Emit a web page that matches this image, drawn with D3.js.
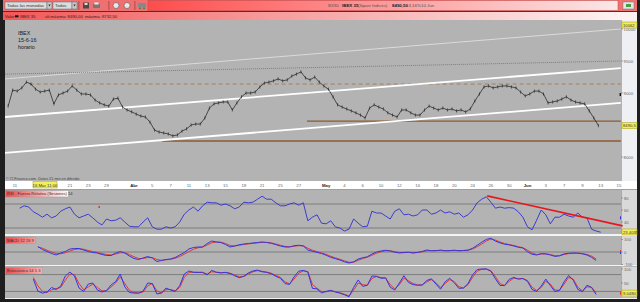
<!DOCTYPE html>
<html>
<head>
<meta charset="utf-8">
<script src="https://cdn.jsdelivr.net/npm/d3@7"></script>
<style>
body{margin:0;background:#1e1e1e;overflow:hidden}
svg{display:block}
text{font-family:"Liberation Sans",Arial,sans-serif}
</style>
</head>
<body>
<div id="chart"></div>
<script>

// ---- data ----
// trading-day index: 0 = 11 Mar 2016, series sampled every half session
var priceStart = -0.75
var price = [8795,9045,9030,9080,9170,9140,9060,9015,9030,9045,
  8830,8970,9000,9030,9110,9045,8985,8985,8970,8890,
  8845,8815,8795,8905,8920,8780,8735,8705,8670,8640,
  8625,8545,8420,8390,8375,8360,8330,8345,8405,8440,
  8500,8515,8515,8610,8765,8830,8845,8860,8860,8735,
  8845,8940,9000,9000,9015,9095,9155,9170,9190,9220,
  9190,9205,9265,9295,9330,9235,9205,9250,9170,9110,
  9060,8940,8815,8780,8750,8720,8690,8655,8610,8765,
  8815,8780,8750,8690,8655,8625,8735,8735,8690,8655,
  8655,8735,8795,8765,8735,8765,8735,8750,8720,8735,
  8705,8750,8875,8985,9095,9110,9080,9095,9110,9110,
  9095,9080,9015,8955,8985,9030,9030,8985,8845,8860,
  8875,8905,8940,8890,8860,8845,8830,8720,8610,8490]

var rsiStart = 0.5
var rsi = [63,67,65,57,53,48,53,47,50,58,
  62,65,53,47,50,53,47,40,35,45,
  42,43,47,40,33,32,32,40,47,32,
  28,28,32,30,32,40,53,60,65,58,
  67,73,72,72,68,70,67,62,65,73,
  72,73,78,83,78,78,72,67,67,70,
  72,68,72,42,48,52,38,37,42,32,
  30,25,28,45,38,32,33,58,55,55,
  50,45,58,62,52,53,50,52,60,60,
  53,55,60,55,57,53,55,48,52,60,
  72,78,82,73,63,65,63,64,63,57,
  48,32,27,43,60,52,37,48,48,53,
  50,48,55,48,47,28,25,23]

var macdStart = 2.5
var macd = [44,20,4,-12,-24,-8,4,24,28,28,
  16,4,-4,-8,-20,-28,-28,-8,4,-8,
  -32,-52,-60,-48,-36,-48,-76,-68,-60,-56,
  -44,-24,-4,24,36,40,40,68,88,80,
  76,60,40,48,58,64,68,72,76,80,
  76,70,59,48,40,40,50,54,48,16,
  6,-3,-12,-26,-42,-53,-64,-78,-88,-79,
  -56,-46,-38,-16,0,8,14,8,-2,-8,
  -4,-2,-8,-3,5,16,10,11,15,10,
  11,14,10,12,15,30,54,78,101,110,
  87,73,62,57,48,38,32,2,-18,-24,
  -13,-15,-24,-35,-30,-15,-10,-8,-9,-15,
  -24,-42,-68]
var macdSignal = [40,30,14,0,-12,-14,-6,8,20,26,
  22,12,4,-4,-12,-20,-24,-16,-6,-6,
  -20,-38,-52,-52,-44,-44,-60,-66,-62,-58,
  -50,-36,-18,4,22,34,40,56,74,80,
  78,68,52,48,54,60,65,69,73,77,
  77,73,64,54,45,42,46,51,50,30,
  14,3,-7,-19,-34,-47,-58,-71,-82,-82,
  -66,-52,-42,-26,-10,2,10,10,3,-4,
  -5,-3,-6,-4,1,10,11,11,13,11,
  11,13,11,12,14,24,42,64,88,104,
  95,80,68,60,52,42,35,14,-8,-20,
  -16,-15,-20,-30,-30,-20,-13,-10,-9,-12,
  -20,-33,-55]

var stochStart = 2.0
var stochK = [64,21,14,18,34,27,39,75,89,75,
  32,20,46,50,25,18,23,43,55,82,
  36,16,14,14,21,50,48,11,14,32,
  25,20,41,82,93,88,88,88,79,95,
  88,86,88,84,76,69,74,86,93,96,
  90,88,83,74,67,48,45,72,92,95,
  89,31,29,15,20,24,18,14,8,1,
  34,61,38,42,75,74,67,68,35,25,
  50,76,52,44,42,43,59,65,46,28,
  54,67,51,31,32,48,79,98,100,100,
  92,65,41,41,63,70,64,66,56,27,
  20,39,64,41,19,24,54,77,60,27,
  19,42,34,9]
var stochD = [70,40,20,16,26,30,34,60,82,80,
  48,26,36,46,34,22,22,36,50,72,
  48,24,16,14,18,40,48,22,14,26,
  27,22,34,70,88,89,88,88,82,90,
  89,87,87,85,79,72,73,82,90,94,
  92,89,85,77,70,54,47,64,85,93,
  91,45,31,19,19,22,19,15,10,4,
  24,50,44,42,66,73,69,68,44,29,
  44,67,58,48,43,43,54,62,51,34,
  48,62,55,37,32,44,70,92,99,100,
  94,73,48,41,56,67,65,66,59,35,
  23,34,56,46,25,24,46,70,64,35,
  22,36,35,15]

// date axis labels and their trading-day index
var dateLabels = ["11","21","23","29","Abr","5","7","11","13","15","19","21","25","27","May","4","6","10","12","16","18","20","24","26","30","Jun","3","7","9","13","15"]
var dateDays = [0,6,8,10,13,15,17,19,21,23,25,27,29,31,34,36,38,40,42,44,46,48,50,52,54,56,58,60,62,64,66]
var monthLabels = ["Abr","May","Jun"]
var cursorDay = 3.28, cursorLabel = "16 Mar 11:00"

// drawn lines on the price panel: [startDay, endDay] and [startPrice, endPrice]
var lineDays = [-1.1, 66.2]
var thinTop = [9220, 10000]
var dottedTop = [9295, 9500]
var channelHigh = [8625, 9390]
var channelLow = [8065, 8845]
var dashedLevel = 9140, dashedFrom = 1.6
var supportLevels = [8560, 8250], supportFrom = [31.9, 16.1]
var rsiTrendDays = [51.6, 66.4], rsiTrendVals = [83.5, 33.5]

var priceTicks = [10000, 9500, 9000, 8000]
var lastPrice = 8490.5, topPrice = 10062
var rsiTicks = [80, 60, 40], rsiLevels = [70, 30], rsiLast = "23.4035"
var macdTicks = [100, 0, -100]
var stochTicks = [100, 50], stochLevels = [80, 20], stochLast = "9.0480"

// ---- drawing ----
var W = 640, H = 302
var svg = d3.select("#chart").append("svg").attr("width", W).attr("height", H)
var defs = svg.append("defs")

function grad(id, x1, x2, c1, c2){
  var g = defs.append("linearGradient").attr("id", id)
    .attr("gradientUnits","userSpaceOnUse").attr("x1",x1).attr("x2",x2).attr("y1",0).attr("y2",0)
  g.append("stop").attr("offset",0).attr("stop-color",c1)
  g.append("stop").attr("offset",1).attr("stop-color",c2)
}
grad("gTop", 148, 615, "#ff4c4c", "#fbe6e6")
grad("gRow", 5, 620, "#f25858", "#fdf2f2")
grad("gLab", 5, 70, "#ee4a4a", "#ffffff")

svg.append("rect").attr("width",W).attr("height",H).attr("fill","#1e1e1e")

// toolbar
svg.append("rect").attr("x",3).attr("y",0).attr("width",634).attr("height",11).attr("fill","#ef7070")
svg.append("rect").attr("x",148).attr("y",0.5).attr("width",470).attr("height",10).attr("fill","url(#gTop)")
  .attr("stroke","#b84848").attr("stroke-width",0.5)
function dropdown(x, w, label){
  svg.append("rect").attr("x",x).attr("y",2).attr("width",w).attr("height",7)
    .attr("fill","#dcdcdc").attr("stroke","#666").attr("stroke-width",0.5)
  svg.append("rect").attr("x",x+w).attr("y",2).attr("width",5).attr("height",7)
    .attr("fill","#c8c8c8").attr("stroke","#666").attr("stroke-width",0.5)
  svg.append("path").attr("d","M"+(x+w+1.3)+",4.6 l2.4,0 l-1.2,1.8z").attr("fill","#333")
  svg.append("text").attr("x",x+2).attr("y",7.3).attr("font-size",4.3).attr("fill","#333").text(label)
}
dropdown(5, 42, "Todas las monedas")
dropdown(53, 19, "Todos")
;[78.5,108.5,134.5].forEach(function(sx){
  svg.append("rect").attr("x",sx).attr("y",1).attr("width",0.8).attr("height",9).attr("fill","#a04040")
})
svg.append("rect").attr("x",83).attr("y",2.5).attr("width",6).attr("height",6).attr("fill","#4a4a4a")
svg.append("rect").attr("x",84.5).attr("y",3).attr("width",3).attr("height",2).attr("fill","#ddd")
svg.append("rect").attr("x",93).attr("y",4).attr("width",7).attr("height",4).attr("fill","#777")
svg.append("rect").attr("x",94.5).attr("y",2.5).attr("width",4).attr("height",2).attr("fill","#eee")
;[116,127].forEach(function(cx){
  svg.append("circle").attr("cx",cx).attr("cy",5.5).attr("r",3).attr("fill","#e8e8e8").attr("stroke","#555").attr("stroke-width",0.6)
})
svg.append("rect").attr("x",138).attr("y",3).attr("width",8).attr("height",4).attr("fill","#888")
svg.append("circle").attr("cx",140).attr("cy",8.3).attr("r",1).attr("fill","#3a8a3a")
svg.append("circle").attr("cx",144).attr("cy",8.3).attr("r",1).attr("fill","#3a8a3a")
svg.append("rect").attr("x",623).attr("y",2).attr("width",11).attr("height",7).attr("fill","#e4e4e4").attr("stroke","#777").attr("stroke-width",0.5)
svg.append("rect").attr("x",626).attr("y",4).attr("width",5).attr("height",3).attr("fill","#4a9a4a")

var head = svg.append("text").attr("y",7.2).attr("font-size",4.4).attr("fill","#555")
head.append("tspan").attr("x",328).text("BX30")
head.append("tspan").attr("x",342).attr("font-weight","bold").attr("fill","#222").text("IBEX 35")
head.append("tspan").attr("x",358).text("(Spain Indices)")
head.append("tspan").attr("x",392).attr("font-weight","bold").attr("fill","#222").text("8490,50")
head.append("tspan").attr("x",407).text("-3,16%")
head.append("tspan").attr("x",421).text("10 Jun")

svg.append("rect").attr("x",3).attr("y",11).attr("width",634).attr("height",1).attr("fill","#3a3a3a")
svg.append("rect").attr("x",3).attr("y",12).attr("width",634).attr("height",8).attr("fill","url(#gRow)")
var row = svg.append("text").attr("y",18).attr("font-size",4.2).attr("fill","#3a2020")
row.append("tspan").attr("x",5).text("Valor:")
row.append("tspan").attr("x",20).text("IBEX 35")
row.append("tspan").attr("x",45).text("ult.máxima: 8490,00")
row.append("tspan").attr("x",85).text("máxima: 8732,50")
svg.append("rect").attr("x",15).attr("y",15.3).attr("width",3.5).attr("height",2).attr("fill","#111")

// panels
var plotL = 5, plotR = 621, stripR = 637
var panels = {
  main: {top:20, bottom:181},
  rsi: {top:190, bottom:234},
  macd: {top:236, bottom:265},
  stoch: {top:266.5, bottom:297.5}
}
Object.keys(panels).forEach(function(k){
  var p = panels[k]
  svg.append("rect").attr("x",plotL).attr("y",p.top).attr("width",plotR-plotL).attr("height",p.bottom-p.top).attr("fill","#b3b3b3")
  svg.append("rect").attr("x",plotR).attr("y",p.top).attr("width",stripR-plotR).attr("height",p.bottom-p.top)
    .attr("fill", k=="main" ? "#eef0f4" : "#d9d9d9")
  svg.append("rect").attr("x",plotR).attr("y",p.top).attr("width",0.6).attr("height",p.bottom-p.top).attr("fill","#8a8a8a")
  defs.append("clipPath").attr("id","clip-"+k).append("rect")
    .attr("x",plotL).attr("y",p.top).attr("width",plotR-plotL+3).attr("height",p.bottom-p.top)
})
// separators
;[[234,2],[265,1.5],[297.5,1.5]].forEach(function(s){
  svg.append("rect").attr("x",plotL).attr("y",s[0]).attr("width",stripR-plotL).attr("height",s[1]).attr("fill","#f4f4f4")
})

// scales
var x = d3.scaleLinear().domain([0, 66]).range([15, 619])
var yP = d3.scaleLinear().domain([8000, 10000]).range([157, 29])
var yR = d3.scaleLinear().domain([0, 100]).range([246, 186])
var yM = d3.scaleLinear().domain([-100, 100]).range([264.5, 239.5])
var yS = d3.scaleLinear().domain([0, 100]).range([297, 269])

function seg(g, d0, d1, v0, v1, ys){
  return g.append("line").attr("x1",x(d0)).attr("x2",x(d1)).attr("y1",ys(v0)).attr("y2",ys(v1))
}
function series(g, data, start, ys, color, w){
  var line = d3.line().x(function(v,i){ return x(start + i*0.5) }).y(function(v){ return ys(v) })
  return g.append("path").datum(data).attr("d", line).attr("fill","none")
    .attr("stroke", color).attr("stroke-width", w).attr("stroke-linejoin","round")
}

// main price panel
var gm = svg.append("g").attr("clip-path","url(#clip-main)")
seg(gm, lineDays[0], lineDays[1], thinTop[0], thinTop[1], yP).attr("stroke","#e4e4e4").attr("stroke-width",0.8)
seg(gm, lineDays[0], lineDays[1], dottedTop[0], dottedTop[1], yP).attr("stroke","#666").attr("stroke-width",0.7).attr("stroke-dasharray","1,1")
seg(gm, dashedFrom, lineDays[1], dashedLevel, dashedLevel, yP).attr("stroke","#a07a55").attr("stroke-width",0.9).attr("stroke-dasharray","4,3")
supportLevels.forEach(function(v,i){
  seg(gm, supportFrom[i], lineDays[1], v, v, yP).attr("stroke","#8c5a30").attr("stroke-width",1.3)
})
seg(gm, lineDays[0], lineDays[1], channelHigh[0], channelHigh[1], yP).attr("stroke","#ffffff").attr("stroke-width",1.8)
seg(gm, lineDays[0], lineDays[1], channelLow[0], channelLow[1], yP).attr("stroke","#ffffff").attr("stroke-width",1.8)

gm.selectAll(".bar").data(price).enter().append("line").attr("class","bar")
  .attr("x1", function(v,i){ return x(priceStart + i*0.5) }).attr("x2", function(v,i){ return x(priceStart + i*0.5) })
  .attr("y1", function(v){ return yP(v) - 1.6 }).attr("y2", function(v){ return yP(v) + 1.6 })
  .attr("stroke","#1a1a1a").attr("stroke-width",0.6)
series(gm, price, priceStart, yP, "#1a1a1a", 0.7)

svg.append("rect").attr("x",619.6).attr("y",yP(9000)).attr("width",1.4).attr("height",3).attr("fill","#111")

var note = svg.append("text").attr("font-size",5.4).attr("fill","#1a1a1a")
;["IBEX","15-6-16","horario"].forEach(function(t,i){
  note.append("tspan").attr("x",18).attr("y",35 + i*7).text(t)
})
svg.append("text").attr("x",6).attr("y",180).attr("font-size",3.8).attr("fill","#444")
  .text("© IT-Finance.com. Datos 15 min en diferido")

// price axis
priceTicks.forEach(function(v){
  svg.append("rect").attr("x",plotR).attr("y",yP(v)-0.3).attr("width",2).attr("height",0.6).attr("fill","#777")
  svg.append("text").attr("x",623.5).attr("y",yP(v)+1.6).attr("font-size",4.3).attr("fill","#666").text(d3.format("d")(v))
})
function yellowLabel(yc, txt){
  svg.append("rect").attr("x",622).attr("y",yc-3).attr("width",15).attr("height",6)
    .attr("fill","#f2ef5a").attr("stroke","#a89a10").attr("stroke-width",0.5)
  svg.append("text").attr("x",623).attr("y",yc+1.6).attr("font-size",4.2).attr("fill","#333").text(txt)
}
yellowLabel(yP(topPrice), d3.format("d")(topPrice))
yellowLabel(yP(lastPrice), d3.format(".1f")(lastPrice).replace(".", ","))

// date row
svg.append("rect").attr("x",plotL).attr("y",181).attr("width",stripR-plotL).attr("height",8).attr("fill","#ffffff")
svg.append("rect").attr("x",plotL).attr("y",189).attr("width",stripR-plotL).attr("height",1).attr("fill","#e88080")
dateLabels.forEach(function(t,i){
  svg.append("text").attr("x",x(dateDays[i])).attr("y",187).attr("text-anchor","middle")
    .attr("font-size",4.3).attr("fill", monthLabels.indexOf(t)>=0 ? "#222" : "#666")
    .attr("font-weight", monthLabels.indexOf(t)>=0 ? "bold" : "normal").text(t)
})
svg.append("rect").attr("x",x(cursorDay)-12).attr("y",181.5).attr("width",24).attr("height",6.5)
  .attr("fill","#f2ef5a").attr("stroke","#a89a10").attr("stroke-width",0.5)
svg.append("text").attr("x",x(cursorDay)).attr("y",186.6).attr("text-anchor","middle").attr("font-size",4.3).attr("fill","#333").text(cursorLabel)

// indicator panels
function panelLabel(yTop, w, txt){
  svg.append("rect").attr("x",5.5).attr("y",yTop).attr("width",w).attr("height",6.5)
    .attr("fill","url(#gLab)").attr("stroke","#999").attr("stroke-width",0.5)
  svg.append("text").attr("x",7).attr("y",yTop+4.8).attr("font-size",4.1).attr("fill","#333").text(txt)
}
function axisLabels(ticks, ys){
  ticks.forEach(function(v){
    svg.append("rect").attr("x",plotR).attr("y",ys(v)-0.3).attr("width",2).attr("height",0.6).attr("fill","#777")
    svg.append("text").attr("x",624).attr("y",ys(v)+1.5).attr("font-size",4.2).attr("fill","#666").text(v)
  })
}

// RSI
var gr = svg.append("g").attr("clip-path","url(#clip-rsi)")
rsiLevels.forEach(function(v){
  gr.append("line").attr("x1",plotL).attr("x2",plotR).attr("y1",yR(v)).attr("y2",yR(v)).attr("stroke","#7c7c7c").attr("stroke-width",1)
})
series(gr, rsi, rsiStart, yR, "#2f2fd2", 0.9)
svg.append("line").attr("x1",x(rsiTrendDays[0])).attr("x2",x(rsiTrendDays[1]))
  .attr("y1",yR(rsiTrendVals[0])).attr("y2",yR(rsiTrendVals[1])).attr("stroke","#e8141e").attr("stroke-width",1.6)
svg.append("rect").attr("x",x(9.2)-0.8).attr("y",yR(65)-0.8).attr("width",1.6).attr("height",1.6).attr("fill","#e02020")
svg.append("rect").attr("x",620).attr("y",yR(47)-1.5).attr("width",1).attr("height",3).attr("fill","#2f2fd2")
axisLabels(rsiTicks, yR)
yellowLabel(yR(23.4), rsiLast)
panelLabel(190.5, 63, "RSI - Fuerza Relativa (Sesiones) 14")

// MACD
var gc = svg.append("g").attr("clip-path","url(#clip-macd)")
gc.append("line").attr("x1",plotL).attr("x2",plotR).attr("y1",yM(0)).attr("y2",yM(0)).attr("stroke","#7c7c7c").attr("stroke-width",1)
series(gc, macdSignal, macdStart, yM, "#e33838", 1)
series(gc, macd, macdStart, yM, "#3535e0", 1)
svg.append("rect").attr("x",620).attr("y",yM(0)-2).attr("width",1).attr("height",2).attr("fill","#e33838")
svg.append("rect").attr("x",620).attr("y",yM(0)).attr("width",1).attr("height",2).attr("fill","#3535e0")
axisLabels(macdTicks, yM)
panelLabel(237, 30, "MACD 12 26 9")

// Stochastic
var gs = svg.append("g").attr("clip-path","url(#clip-stoch)")
stochLevels.forEach(function(v){
  gs.append("line").attr("x1",plotL).attr("x2",plotR).attr("y1",yS(v)).attr("y2",yS(v)).attr("stroke","#7c7c7c").attr("stroke-width",1)
})
series(gs, stochD, stochStart, yS, "#e33838", 1)
series(gs, stochK, stochStart, yS, "#3535e0", 1)
axisLabels(stochTicks, yS)
svg.append("rect").attr("x",620).attr("y",yS(14)-1.5).attr("width",1).attr("height",3).attr("fill","#e33838")
yellowLabel(yS(14), stochLast)
panelLabel(267.5, 37, "Estocástico 14 5 3")

</script>
</body>
</html>
